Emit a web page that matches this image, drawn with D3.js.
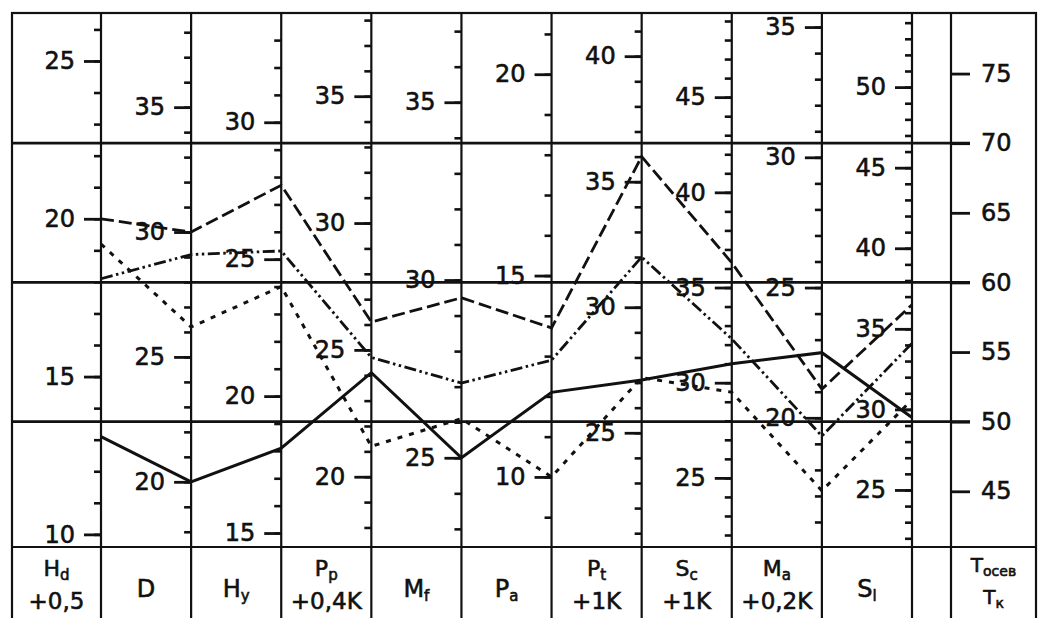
<!DOCTYPE html>
<html>
<head>
<meta charset="utf-8">
<script src="https://cdn.jsdelivr.net/npm/d3@7"></script>
<style>
  html, body { margin: 0; padding: 0; background: #fff; }
  svg { display: block; }
  text { font-family: "DejaVu Sans", sans-serif; fill: #111; stroke: #111; stroke-width: 0.6px; }
</style>
</head>
<body>
<svg id="chart" width="1041" height="618"></svg>
<script>
// Parameter axes of the nomogram, each with its own value range (bottom, top)
const axisKeys = ["Hd", "D", "Hy", "Pp", "Mf", "Pa", "Pt", "Sc", "Ma", "Sl"];
const axisMin  = [9.6, 17.39, 14.49, 17.23, 22.49, 8.26, 20.45, 21.37, 15.04, 21.46];
const axisMax  = [26.52, 38.77, 33.99, 38.28, 37.51, 21.52, 41.72, 49.42, 35.54, 54.6];

// Temperature scale on the right
const tempMin = 41.0, tempMax = 79.35;
const tempLabels = [45, 50, 55, 60, 65, 70, 75];
const tempGridLines = [50, 60, 70];

// Four profiles, one value per parameter axis
const lineSolid      = [13.1, 20.0, 18.1, 24.1, 25.0, 12.1, 27.1, 31.0, 22.5, 29.5];
const lineLongDash   = [20.0, 30.0, 27.7, 26.1, 29.5, 13.7, 36.0, 36.3, 21.1, 36.5];
const lineDashDotDot = [18.1, 29.1, 25.3, 24.7, 27.1, 12.9, 32.0, 32.3, 19.3, 34.1];
const lineShortDash  = [19.2, 26.2, 24.0, 21.2, 26.1, 10.0, 27.2, 29.5, 17.2, 30.6];

// Header cells: main letter, subscript, optional second row
const headerMain   = ["H", "D", "H", "P", "M", "P", "P", "S", "M", "S"];
const headerSub    = ["d", "", "y", "p", "f", "a", "t", "c", "a", "l"];
const headerSecond = ["+0,5", "", "", "+0,4K", "", "", "+1K", "+1K", "+0,2K", ""];

const svg = d3.select("#chart");
const frameLeft = 12, frameRight = 1036, frameTop = 13, plotBottom = 547, frameBottom = 622;
const tAxisX = 951;

const x = d3.scalePoint().domain(axisKeys).range([101, 912]);
const yScales = axisKeys.map((k, i) =>
  d3.scaleLinear().domain([axisMin[i], axisMax[i]]).range([plotBottom, frameTop]));
const yT = d3.scaleLinear().domain([tempMin, tempMax]).range([plotBottom, frameTop]);

const ink = "#111";

// Frame
const frame = svg.append("g").attr("stroke", ink).attr("fill", "none");
frame.append("rect")
  .attr("x", frameLeft).attr("y", frameTop)
  .attr("width", frameRight - frameLeft).attr("height", frameBottom - frameTop)
  .attr("stroke-width", 2.2);
frame.append("line")
  .attr("x1", frameLeft).attr("x2", frameRight)
  .attr("y1", plotBottom).attr("y2", plotBottom)
  .attr("stroke-width", 2.2);
axisKeys.forEach(k => {
  frame.append("line")
    .attr("x1", x(k)).attr("x2", x(k))
    .attr("y1", frameTop).attr("y2", frameBottom)
    .attr("stroke-width", 2.2);
});
frame.append("line")
  .attr("x1", tAxisX).attr("x2", tAxisX)
  .attr("y1", frameTop).attr("y2", frameBottom)
  .attr("stroke-width", 2.2);

// Parameter axes: minor ticks every unit, labelled ticks every five units
axisKeys.forEach((k, i) => {
  const s = yScales[i];
  const lo = Math.ceil(axisMin[i]), hi = Math.floor(axisMax[i]);
  const minor = d3.range(lo, hi + 1);
  const major = minor.filter(v => v % 5 === 0);

  const gMinor = svg.append("g")
    .attr("transform", `translate(${x(k)},0)`)
    .call(d3.axisLeft(s).tickValues(minor).tickSize(7).tickFormat(""));
  gMinor.select(".domain").remove();
  gMinor.selectAll(".tick line").attr("stroke", ink).attr("stroke-width", 2.6);

  const gMajor = svg.append("g")
    .attr("transform", `translate(${x(k)},0)`)
    .call(d3.axisLeft(s).tickValues(major).tickSize(17).tickPadding(9).tickFormat(d3.format("d")));
  gMajor.select(".domain").remove();
  gMajor.selectAll(".tick line").attr("stroke", ink).attr("stroke-width", 2.8);
  gMajor.selectAll(".tick text")
    .attr("font-size", 24)
    .attr("font-family", "DejaVu Sans, sans-serif")
    .attr("fill", ink);
});

// Temperature grid lines across the whole field
svg.append("g").selectAll("line")
  .data(tempGridLines)
  .join("line")
  .attr("x1", frameLeft).attr("x2", tAxisX + 19)
  .attr("y1", d => yT(d)).attr("y2", d => yT(d))
  .attr("stroke", ink).attr("stroke-width", 2.8);

// Temperature axis
const gT = svg.append("g")
  .attr("transform", `translate(${tAxisX},0)`)
  .call(d3.axisRight(yT).tickValues(tempLabels).tickSize(19).tickPadding(11).tickFormat(d3.format("d")));
gT.select(".domain").remove();
gT.selectAll(".tick line").attr("stroke", ink).attr("stroke-width", 2.8);
gT.selectAll(".tick text")
  .attr("font-size", 24)
  .attr("font-family", "DejaVu Sans, sans-serif")
  .attr("fill", ink);

// Profiles
const profiles = [
  { values: lineSolid,      dash: null,                 width: 3.0 },
  { values: lineLongDash,   dash: "13,5",               width: 2.8 },
  { values: lineDashDotDot, dash: "12,3.5,2.5,3.5,2.5,3.5", width: 2.8 },
  { values: lineShortDash,  dash: "5,7",                width: 3.0 }
];
const lineGen = d3.line()
  .x(d => x(d.key))
  .y(d => yScales[d.i](d.v));
svg.append("g").selectAll("path")
  .data(profiles)
  .join("path")
  .attr("d", p => lineGen(p.values.map((v, i) => ({ key: axisKeys[i], i, v }))))
  .attr("fill", "none")
  .attr("stroke", ink)
  .attr("stroke-width", p => p.width)
  .attr("stroke-dasharray", p => p.dash)
  .attr("stroke-linejoin", "miter");

// Header row
const cellEdges = [frameLeft].concat(axisKeys.map(k => x(k)));
const header = svg.append("g");
axisKeys.forEach((k, i) => {
  const cx = (cellEdges[i] + cellEdges[i + 1]) / 2;
  const twoRows = headerSecond[i] !== "";
  const t = header.append("text")
    .attr("x", cx)
    .attr("y", twoRows ? 576 : 597)
    .attr("text-anchor", "middle")
    .attr("font-size", twoRows ? 22 : 24);
  t.append("tspan").text(headerMain[i]);
  if (headerSub[i]) {
    t.append("tspan").attr("font-size", 15).attr("dy", 4).text(headerSub[i]);
  }
  if (twoRows) {
    header.append("text")
      .attr("x", cx).attr("y", 609)
      .attr("text-anchor", "middle")
      .attr("font-size", 23)
      .text(headerSecond[i]);
  }
});

// Temperature column header: T axial / T compressor
const tcx = (tAxisX + frameRight) / 2;
const t1 = header.append("text").attr("x", tcx).attr("y", 572)
  .attr("text-anchor", "middle").attr("font-size", 20);
t1.append("tspan").text("T");
t1.append("tspan").attr("font-size", 14).attr("dy", 4).text("осев");
const t2 = header.append("text").attr("x", tcx).attr("y", 604)
  .attr("text-anchor", "middle").attr("font-size", 20);
t2.append("tspan").text("T");
t2.append("tspan").attr("font-size", 14).attr("dy", 4).text("к");
</script>
</body>
</html>
